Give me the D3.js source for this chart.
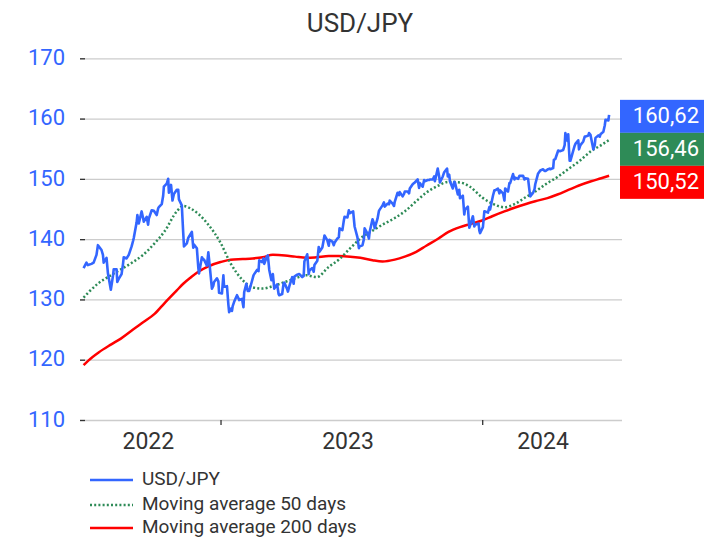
<!DOCTYPE html>
<html><head><meta charset="utf-8">
<script src="https://cdn.jsdelivr.net/npm/d3@7"></script>
<style>
body{margin:0;background:#fff}
svg{display:block}
text{font-family:Roboto,"Liberation Sans",Arial,sans-serif}
</style>
</head><body>
<svg id="chart" width="704" height="538"></svg>
<script>
// ---------- DATA ----------
const chartTitle = "USD/JPY";
const seriesNames = ["USD/JPY", "Moving average 50 days", "Moving average 200 days"];
const yTicks = [110, 120, 130, 140, 150, 160, 170];
const yearLabels = ["2022", "2023", "2024"];
const lastValues = [160.62, 156.46, 150.52];
const lastLabels = ["160,62", "156,46", "150,52"];

const usdDates = [
"2022-06-24","2022-06-28","2022-06-30","2022-07-05","2022-07-08","2022-07-12","2022-07-14","2022-07-19","2022-07-21","2022-07-22","2022-07-26","2022-07-28",
"2022-08-01","2022-08-04","2022-08-05","2022-08-09","2022-08-10","2022-08-12","2022-08-16","2022-08-18","2022-08-19","2022-08-23","2022-08-26","2022-08-30",
"2022-09-01","2022-09-02","2022-09-06","2022-09-07","2022-09-09","2022-09-13","2022-09-15","2022-09-16","2022-09-20","2022-09-22","2022-09-23","2022-09-27","2022-09-30",
"2022-10-04","2022-10-06","2022-10-07","2022-10-11","2022-10-13","2022-10-14","2022-10-18","2022-10-20","2022-10-21","2022-10-24","2022-10-26","2022-10-28",
"2022-11-01","2022-11-03","2022-11-04","2022-11-08","2022-11-10","2022-11-11","2022-11-15","2022-11-17","2022-11-18","2022-11-22","2022-11-24","2022-11-25","2022-11-29",
"2022-12-01","2022-12-02","2022-12-06","2022-12-08","2022-12-09","2022-12-13","2022-12-15","2022-12-16","2022-12-20","2022-12-22","2022-12-23","2022-12-27","2022-12-29","2022-12-30",
"2023-01-03","2023-01-05","2023-01-06","2023-01-10","2023-01-12","2023-01-13","2023-01-16","2023-01-17","2023-01-18","2023-01-20","2023-01-24","2023-01-26","2023-01-27","2023-01-31",
"2023-02-02","2023-02-03","2023-02-06","2023-02-08","2023-02-10","2023-02-14","2023-02-16","2023-02-17","2023-02-21","2023-02-23","2023-02-24","2023-02-28",
"2023-03-02","2023-03-03","2023-03-07","2023-03-08","2023-03-10","2023-03-13","2023-03-15","2023-03-17","2023-03-21","2023-03-23","2023-03-24","2023-03-28","2023-03-30","2023-03-31",
"2023-04-04","2023-04-05","2023-04-07","2023-04-11","2023-04-13","2023-04-14","2023-04-18","2023-04-20","2023-04-21","2023-04-25","2023-04-27","2023-04-28",
"2023-05-02","2023-05-04","2023-05-05","2023-05-09","2023-05-11","2023-05-12","2023-05-16","2023-05-18","2023-05-19","2023-05-23","2023-05-25","2023-05-26","2023-05-30",
"2023-06-01","2023-06-02","2023-06-06","2023-06-08","2023-06-09","2023-06-13","2023-06-15","2023-06-16","2023-06-20","2023-06-22","2023-06-23","2023-06-27","2023-06-29","2023-06-30",
"2023-07-05","2023-07-07","2023-07-11","2023-07-13","2023-07-14","2023-07-18","2023-07-20","2023-07-21","2023-07-25","2023-07-27","2023-07-28",
"2023-08-01","2023-08-03","2023-08-04","2023-08-08","2023-08-10","2023-08-11","2023-08-15","2023-08-17","2023-08-18","2023-08-22","2023-08-24","2023-08-25","2023-08-29","2023-08-31",
"2023-09-01","2023-09-05","2023-09-07","2023-09-08","2023-09-12","2023-09-14","2023-09-15","2023-09-19","2023-09-21","2023-09-22","2023-09-26","2023-09-28","2023-09-29",
"2023-10-03","2023-10-05","2023-10-06","2023-10-10","2023-10-12","2023-10-13","2023-10-17","2023-10-19","2023-10-20","2023-10-24","2023-10-26","2023-10-27","2023-10-31",
"2023-11-02","2023-11-03","2023-11-07","2023-11-09","2023-11-13","2023-11-14","2023-11-16","2023-11-17","2023-11-21","2023-11-23","2023-11-24","2023-11-28","2023-11-30",
"2023-12-01","2023-12-05","2023-12-07","2023-12-08","2023-12-12","2023-12-14","2023-12-15","2023-12-19","2023-12-21","2023-12-22","2023-12-27","2023-12-28","2023-12-29",
"2024-01-02","2024-01-04","2024-01-05","2024-01-09","2024-01-11","2024-01-12","2024-01-16","2024-01-18","2024-01-19","2024-01-23","2024-01-25","2024-01-26","2024-01-30",
"2024-02-01","2024-02-02","2024-02-06","2024-02-08","2024-02-09","2024-02-13","2024-02-15","2024-02-16","2024-02-20","2024-02-22","2024-02-23","2024-02-27","2024-02-29",
"2024-03-01","2024-03-05","2024-03-07","2024-03-08","2024-03-12","2024-03-14","2024-03-15","2024-03-19","2024-03-21","2024-03-22","2024-03-26","2024-03-28","2024-03-29",
"2024-04-02","2024-04-04","2024-04-05","2024-04-09","2024-04-10","2024-04-12","2024-04-16","2024-04-18","2024-04-19","2024-04-23","2024-04-25","2024-04-26","2024-04-29","2024-04-30",
"2024-05-01","2024-05-02","2024-05-03","2024-05-07","2024-05-09","2024-05-10","2024-05-14","2024-05-15","2024-05-17","2024-05-21","2024-05-23","2024-05-24","2024-05-28","2024-05-29","2024-05-31",
"2024-06-04","2024-06-06","2024-06-07","2024-06-11","2024-06-13","2024-06-14","2024-06-18","2024-06-20","2024-06-21","2024-06-25","2024-06-26"
];
const usdValues = [
135.2,136.1,135.7,135.9,136.1,137.4,139.0,138.2,137.4,136.1,136.9,134.3,
131.6,133.9,135.0,135.0,132.9,133.4,134.2,135.9,137.0,136.8,137.4,138.8,
139.7,140.2,142.8,144.0,142.6,144.6,143.5,142.9,143.7,142.4,143.4,144.8,144.7,
144.0,145.1,145.3,145.8,147.2,148.7,149.2,150.0,147.7,149.0,146.4,147.5,
148.2,148.2,146.6,145.6,141.0,138.8,139.3,140.2,140.4,141.2,138.6,139.1,138.5,
135.3,134.3,137.0,136.6,136.6,135.6,137.8,136.7,131.8,132.3,132.9,133.5,133.0,131.1,
131.0,134.0,132.1,132.2,129.1,127.9,128.5,128.1,128.9,129.6,130.7,130.2,129.9,130.1,
128.7,131.2,132.6,131.4,131.4,133.1,134.0,134.2,134.9,134.7,136.5,136.2,
136.8,135.9,137.2,137.3,134.9,133.2,134.2,131.8,132.5,130.9,130.7,130.9,132.7,132.8,
131.7,131.3,132.2,133.7,132.6,133.8,134.1,134.2,134.2,133.7,133.9,136.3,
137.5,134.2,134.8,135.2,134.6,135.7,136.4,138.7,137.9,138.6,139.9,140.6,139.8,
138.9,139.9,139.6,139.0,139.4,140.1,140.3,141.8,141.5,143.1,143.7,143.6,144.8,144.3,
144.6,142.1,140.3,138.5,138.8,139.0,140.0,141.8,140.9,140.1,141.2,
143.3,142.6,141.8,143.4,144.7,144.9,145.6,146.1,145.4,145.9,145.8,146.4,145.9,145.5,
146.2,147.7,147.3,147.8,147.1,147.5,147.9,147.9,147.6,148.4,149.1,149.3,149.4,
149.9,148.5,149.3,148.7,149.8,149.6,149.8,149.8,149.9,149.9,150.4,149.6,151.7,
150.4,149.4,150.4,151.1,151.7,150.4,150.7,149.6,148.4,149.5,149.4,147.4,148.2,
146.8,147.2,144.1,144.9,145.4,141.9,142.2,143.8,142.1,142.4,142.6,141.4,141.0,
142.0,144.6,144.6,144.4,145.3,144.9,147.2,148.1,148.1,148.4,147.6,148.1,147.6,
146.4,148.4,147.9,149.3,149.3,150.8,149.9,150.2,150.0,150.5,150.5,150.5,149.9,
150.1,150.0,148.0,147.1,147.7,148.3,149.1,150.9,151.2,151.4,151.6,151.3,151.3,
151.6,151.7,151.6,151.8,153.2,153.3,154.7,154.6,154.6,154.8,155.6,157.6,156.3,157.4,
155.0,153.0,153.0,154.7,155.5,155.8,156.4,154.9,155.6,156.2,157.0,157.0,157.2,157.6,157.3,
154.9,155.6,156.8,157.2,157.0,157.4,157.8,158.9,159.8,159.7,160.62
];

const maDates = [
"2022-06-24","2022-07-01","2022-07-15","2022-08-01","2022-08-15","2022-09-01","2022-09-15","2022-10-01","2022-10-15","2022-11-01","2022-11-10","2022-11-20",
"2022-12-01","2022-12-15","2023-01-01","2023-01-15","2023-02-01","2023-02-15","2023-03-01","2023-03-15","2023-04-01","2023-04-15","2023-05-01","2023-05-15",
"2023-06-01","2023-06-15","2023-07-01","2023-07-15","2023-08-01","2023-08-15","2023-09-01","2023-09-15","2023-10-01","2023-10-15","2023-11-01","2023-11-15",
"2023-12-01","2023-12-15","2024-01-01","2024-01-15","2024-02-01","2024-02-15","2024-03-01","2024-03-15","2024-04-01","2024-04-15","2024-05-01","2024-05-15",
"2024-06-01","2024-06-15","2024-06-26"
];
const ma50Values = [
130.3,131.2,132.7,134.0,135.0,136.2,137.4,139.3,141.3,144.6,145.5,145.1,
144.2,142.4,139.4,136.0,133.2,132.0,131.8,132.2,132.9,133.5,134.0,133.7,
135.4,136.6,138.5,140.1,141.4,142.4,143.5,144.6,146.3,147.7,148.9,149.5,
149.4,148.7,146.9,145.9,145.3,145.8,146.9,147.9,149.3,150.3,151.7,152.9,
154.6,155.6,156.46
];
const ma200Values = [
119.1,119.9,121.2,122.5,123.5,125.0,126.2,127.6,129.4,131.5,132.6,133.6,
134.6,135.5,136.2,136.6,136.7,136.8,137.0,137.4,137.3,137.1,136.9,137.0,
137.2,137.2,137.1,136.9,136.5,136.3,136.6,137.1,137.9,138.9,140.1,141.2,
142.0,142.5,143.1,143.8,144.6,145.2,145.8,146.3,146.8,147.4,148.2,148.9,
149.6,150.1,150.52
];

// ---------- STYLE ----------
const colors = ["#3366ff", "#2e8b57", "#ff0000"];
const textDark = "#333333";

// ---------- CHART ----------
const parse = d3.timeParse("%Y-%m-%d");
const svg = d3.select("#chart");

const x = d3.scaleTime()
  .domain([parse("2022-06-19"), parse("2024-07-14")])
  .range([80, 622]);
const y = d3.scaleLinear().domain([110, 170]).range([420, 58.3]);

// title
svg.append("text").attr("x", 360).attr("y", 32).attr("text-anchor", "middle")
  .attr("font-size", 26).attr("fill", textDark).text(chartTitle);

// gridlines + y labels
const yAxis = d3.axisLeft(y).tickValues(yTicks).tickSize(-542).tickPadding(15).tickFormat(d3.format("d"));
const gy = svg.append("g").attr("transform", "translate(80,0)").call(yAxis);
gy.select(".domain").remove();
gy.selectAll(".tick line").attr("stroke", "#cccccc").attr("stroke-width", 1.3);
gy.selectAll(".tick").append("line").attr("x1", 0).attr("x2", 5).attr("stroke", "#333").attr("stroke-width", 1.3);
gy.selectAll(".tick text").attr("font-size", 22).attr("fill", colors[0]).attr("dy", "0.28em")
  .attr("x", -15).style("font-family", "Roboto, 'Liberation Sans', Arial, sans-serif");

// x axis ticks at year boundaries
const yearStarts = [parse("2023-01-01"), parse("2024-01-01")];
const xAxis = d3.axisBottom(x).tickValues(yearStarts).tickSize(5).tickFormat("");
const gx = svg.append("g").attr("transform", "translate(0,420)").call(xAxis);
gx.select(".domain").remove();
gx.selectAll(".tick line").attr("stroke", "#333").attr("stroke-width", 1.3);

// year labels: centred on each year's data span
const usd = usdDates.map((d, i) => ({date: parse(d), v: usdValues[i]}));
yearLabels.forEach(yr => {
  const pts = usd.filter(p => p.date.getFullYear() === +yr);
  const cx = (x(pts[0].date) + x(pts[pts.length - 1].date)) / 2;
  svg.append("text").attr("x", cx - 3).attr("y", 449).attr("text-anchor", "middle")
    .attr("font-size", 23).attr("fill", textDark).text(yr);
});

// lines
const line = d3.line().x(d => x(d.date)).y(d => y(d.v));
const ma50 = maDates.map((d, i) => ({date: parse(d), v: ma50Values[i]}));
const ma200 = maDates.map((d, i) => ({date: parse(d), v: ma200Values[i]}));

svg.append("path").datum(ma200).attr("d", line.curve(d3.curveMonotoneX)).attr("fill", "none")
  .attr("stroke", colors[2]).attr("stroke-width", 2.5);
svg.append("path").datum(ma50).attr("d", line.curve(d3.curveMonotoneX)).attr("fill", "none")
  .attr("stroke", colors[1]).attr("stroke-width", 2.5).attr("stroke-dasharray", "2,2.2");
svg.append("path").datum(usd).attr("d", line.curve(d3.curveLinear)).attr("fill", "none")
  .attr("stroke", colors[0]).attr("stroke-width", 2.6).attr("stroke-linejoin", "round");

// last-value boxes
const top0 = y(lastValues[0]) - 15;
lastLabels.forEach((lab, i) => {
  const t = top0 + i * 33;
  svg.append("rect").attr("x", 620).attr("y", t).attr("width", 84).attr("height", 33).attr("fill", colors[i]);
  svg.append("text").attr("x", 699).attr("y", t + 23).attr("text-anchor", "end")
    .attr("font-size", 22).attr("fill", "#fff").text(lab);
});

// legend
const legY = [480, 505, 528];
seriesNames.forEach((name, i) => {
  const l = svg.append("line").attr("x1", 90).attr("x2", 133).attr("y1", legY[i]).attr("y2", legY[i])
    .attr("stroke", colors[i]).attr("stroke-width", 2.5);
  if (i === 1) l.attr("stroke-dasharray", "2,2.2");
  svg.append("text").attr("x", 142).attr("y", legY[i] + 5).attr("font-size", 19)
    .attr("fill", textDark).text(name);
});
</script>
</body></html>
